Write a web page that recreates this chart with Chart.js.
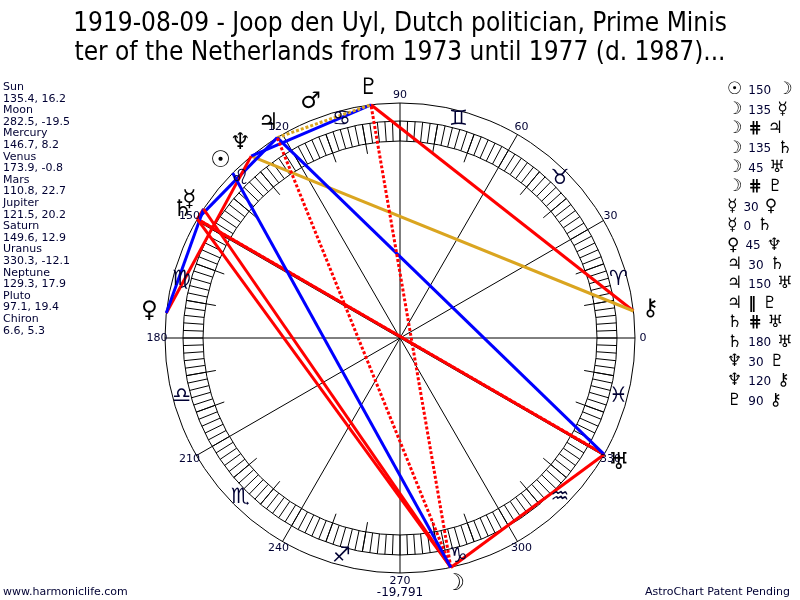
<!DOCTYPE html>
<html>
<head>
<meta charset="utf-8">
<script src="https://cdn.jsdelivr.net/npm/chart.js@4.4.0/dist/chart.umd.min.js"></script>
<style>
  body { margin: 0; background: #fff; }
  canvas { display: block; }
</style>
</head>
<body>
<canvas id="wheel" width="800" height="600"></canvas>
<script>
// ---- data ----
const titleLines = [
  "1919-08-09 - Joop den Uyl, Dutch politician, Prime Minis",
  "ter of the Netherlands from 1973 until 1977 (d. 1987)..."
];
const planetNames = ["Sun", "Moon", "Mercury", "Venus", "Mars", "Jupiter", "Saturn", "Uranus", "Neptune", "Pluto", "Chiron"];
const planetGlyphs = ["☉", "☽", "☿", "♀", "♂", "♃", "♄", "♅", "♆", "♇", "⚷"];
const longitudes = [135.4, 282.5, 146.7, 173.9, 110.8, 121.5, 149.6, 330.3, 129.3, 97.1, 6.6];
const declinations = [16.2, -19.5, 8.2, -0.8, 22.7, 20.2, 12.9, -12.1, 17.9, 19.4, 5.3];
const signGlyphs = ["♈", "♉", "♊", "♋", "♌", "♍", "♎", "♏", "♐", "♑", "♒", "♓"];
const degreeLabels = [0, 30, 60, 90, 120, 150, 180, 210, 240, 270, 300, 330];

// aspects (indexes into the planet arrays)
const aspectFrom = [0, 1, 1, 1, 1, 1, 2, 2, 3, 5, 5, 5, 6, 6, 8, 8, 9];
const aspectTo   = [1, 2, 5, 6, 7, 9, 3, 6, 8, 6, 7, 9, 7, 7, 9, 10, 10];
const aspectKind = ["150", "135", "cp", "135", "45", "cp", "30", "0", "45", "30", "150", "p", "cp", "180", "30", "120", "90"];
const footerLeft = "www.harmoniclife.com";
const footerMid = "-19,791";
const footerRight = "AstroChart Patent Pending";

// ---- styling ----
const CX = 400, CY = 338, RPX = 235;          // wheel centre / outer radius in px
const R_RING_OUT = 217 / RPX, R_RING_IN = 197 / RPX, R_TICK10 = 187 / RPX;
const R_SIGN = 226 / RPX, R_LABEL = 243 / RPX, R_GLYPH = 252 / RPX;
const TEXT = "#000033";
const kindStyle = {
  "0":   { color: "#ff0000", dash: [] },
  "30":  { color: "#0000ff", dash: [] },
  "45":  { color: "#ff0000", dash: [] },
  "90":  { color: "#ff0000", dash: [] },
  "120": { color: "#daa520", dash: [] },
  "135": { color: "#ff0000", dash: [] },
  "150": { color: "#0000ff", dash: [] },
  "180": { color: "#ff0000", dash: [] },
  "p":   { color: "#daa520", dash: [3, 2] },
  "cp":  { color: "#ff0000", dash: [3, 2] }
};
const kindText = { "p": "‖", "cp": "⋕" };

const rad = d => d * Math.PI / 180;
const polar = (deg, r = 1) => ({ x: r * Math.cos(rad(deg)), y: r * Math.sin(rad(deg)) });

const datasets = aspectFrom.map((a, i) => {
  const st = kindStyle[aspectKind[i]];
  return {
    type: "line",
    data: [polar(longitudes[a]), polar(longitudes[aspectTo[i]])],
    borderColor: st.color,
    borderWidth: 3,
    borderDash: st.dash,
    borderCapStyle: "butt",
    pointRadius: 0,
    showLine: true,
    fill: false
  };
});

const wheelPlugin = {
  id: "wheel",
  beforeDraw(chart) {
    const ctx = chart.ctx;
    ctx.save();
    ctx.fillStyle = "#fff";
    ctx.fillRect(0, 0, chart.width, chart.height);
    ctx.restore();
  },
  beforeDatasetsDraw(chart) {
    const { ctx, scales: { x, y } } = chart;
    const cx = x.getPixelForValue(0), cy = y.getPixelForValue(0);
    const unit = x.getPixelForValue(1) - cx;
    const P = (d, r) => { const p = polar(d, r); return [x.getPixelForValue(p.x), y.getPixelForValue(p.y)]; };
    const seg = (d, r1, r2) => {
      const a = P(d, r1), b = P(d, r2);
      ctx.moveTo(a[0], a[1]); ctx.lineTo(b[0], b[1]);
    };
    ctx.save();
    ctx.strokeStyle = "#000";
    ctx.lineWidth = 1;
    for (const r of [1, R_RING_OUT, R_RING_IN]) {
      ctx.beginPath();
      ctx.arc(cx, cy, r * unit, 0, Math.PI * 2);
      ctx.stroke();
    }
    ctx.beginPath();
    for (let d = 0; d < 360; d += 2) seg(d, R_RING_IN, R_RING_OUT);
    for (let d = 10; d < 360; d += 10) if (d % 30) seg(d, R_TICK10, R_RING_OUT);
    for (const d of degreeLabels) seg(d, 0, 1);
    ctx.stroke();
    ctx.restore();
  },
  afterDatasetsDraw(chart) {
    const { ctx, scales: { x, y } } = chart;
    const P = (d, r) => { const p = polar(d, r); return [x.getPixelForValue(p.x), y.getPixelForValue(p.y)]; };
    ctx.save();
    ctx.textAlign = "center";
    ctx.textBaseline = "middle";
    ctx.fillStyle = TEXT;
    ctx.font = "21px 'DejaVu Sans'";
    signGlyphs.forEach((g, i) => {
      const [px, py] = P(15 + i * 30, R_SIGN);
      ctx.fillText(g, px, py);
    });
    ctx.font = "11px 'DejaVu Sans'";
    degreeLabels.forEach(d => {
      const [px, py] = P(d, R_LABEL);
      ctx.fillText(String(d), px, py);
    });
    ctx.fillStyle = "#000";
    ctx.font = "23px 'DejaVu Sans'";
    planetGlyphs.forEach((g, i) => {
      const [px, py] = P(longitudes[i], R_GLYPH);
      ctx.fillText(g, px, py);
    });
    ctx.restore();
  },
  afterDraw(chart) {
    const ctx = chart.ctx;
    ctx.save();
    ctx.fillStyle = "#000";
    ctx.textBaseline = "alphabetic";
    ctx.textAlign = "center";
    ctx.font = "26px 'DejaVu Sans Condensed'";
    ctx.fillText(titleLines[0], 400, 31, 684);
    ctx.fillText(titleLines[1], 400, 60, 680);

    // planet list on the left
    ctx.textAlign = "left";
    ctx.fillStyle = TEXT;
    ctx.font = "11px 'DejaVu Sans'";
    planetNames.forEach((n, i) => {
      const yy = 90 + i * 2 * 11.6;
      ctx.fillText(n, 3, yy);
      ctx.fillText(longitudes[i].toFixed(1) + ", " + declinations[i].toFixed(1), 3, yy + 11.6);
    });

    // aspect list on the right
    aspectFrom.forEach((a, i) => {
      const yy = 90 + i * 19.4;
      let xx = 727;
      ctx.textBaseline = "middle";
      ctx.font = "17px 'DejaVu Sans'";
      ctx.fillStyle = "#000";
      ctx.fillText(planetGlyphs[a], xx, yy);
      xx += ctx.measureText(planetGlyphs[a]).width + 6;
      const k = aspectKind[i];
      if (kindText[k]) {
        ctx.font = "bold 16px 'DejaVu Sans'";
        ctx.fillText(kindText[k], xx, yy);
      } else {
        ctx.font = "12px 'DejaVu Sans'";
        ctx.fillStyle = TEXT;
        ctx.fillText(k, xx, yy + 1);
      }
      xx += ctx.measureText(kindText[k] || k).width + 6;
      ctx.font = "17px 'DejaVu Sans'";
      ctx.fillStyle = "#000";
      ctx.fillText(planetGlyphs[aspectTo[i]], xx, yy);
    });

    // footer
    ctx.textBaseline = "alphabetic";
    ctx.fillStyle = TEXT;
    ctx.font = "11px 'DejaVu Sans'";
    ctx.textAlign = "left";
    ctx.fillText(footerLeft, 3, 595);
    ctx.textAlign = "right";
    ctx.fillText(footerRight, 790, 595);
    ctx.textAlign = "center";
    ctx.font = "12px 'DejaVu Sans'";
    ctx.fillText(footerMid, 400, 596);
    ctx.restore();
  }
};

new Chart(document.getElementById("wheel"), {
  type: "scatter",
  data: { datasets },
  options: {
    responsive: false,
    animation: false,
    events: [],
    layout: { padding: 0, autoPadding: false },
    scales: {
      x: { display: false, min: -CX / RPX, max: (800 - CX) / RPX },
      y: { display: false, min: -(600 - CY) / RPX, max: CY / RPX }
    },
    plugins: { legend: { display: false }, tooltip: { enabled: false } }
  },
  plugins: [wheelPlugin]
});
</script>
</body>
</html>
